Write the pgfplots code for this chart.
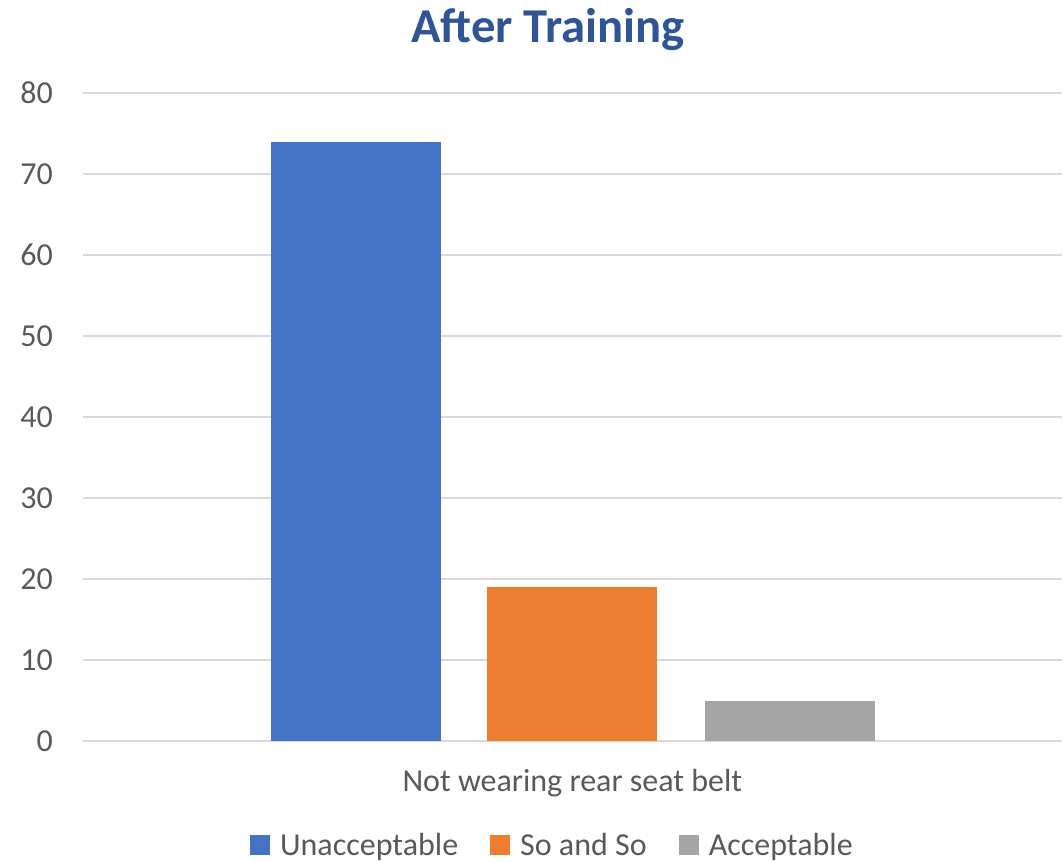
\documentclass[border=0pt]{standalone}
\usepackage{pgfplots}
\pgfplotsset{compat=1.18}
\usepackage{fontspec}
\setmainfont{Carlito}
\definecolor{cBlue}{HTML}{4472C4}
\definecolor{cOrange}{HTML}{ED7D31}
\definecolor{cGray}{HTML}{A5A5A5}
\definecolor{titleBlue}{HTML}{2F5597}
\definecolor{txt}{HTML}{595959}
\definecolor{gridc}{HTML}{D9D9D9}
\begin{document}
\begin{tikzpicture}
\path[use as bounding box] (-62.25pt,-90pt) rectangle (735.75pt,555.75pt);
\begin{axis}[
    at={(0pt,0pt)}, anchor=south west,
    scale only axis,
    width=734pt, height=486pt,
    xmin=-0.5, xmax=0.5,
    ymin=0, ymax=80,
    ytick={0,10,...,80},
    xtick={0},
    xticklabels={Not wearing rear seat belt},
    ymajorgrids,
    grid style={gridc, line width=1pt},
    axis line style={draw=none},
    major tick length=0pt,
    /pgf/number format/assume math mode=true,
    tick label style={font=\fontsize{24}{28}\selectfont, text=txt},
    yticklabel style={anchor=east, inner sep=0pt, xshift=-22.5pt},
    xticklabel style={anchor=base, inner sep=0pt, yshift=-38pt},
    ybar, bar shift=0pt, bar width=0.1736,
    legend columns=3,
    legend style={at={(0.480,-0.1605)}, anchor=center, draw=none,
        font=\fontsize{24}{28}\selectfont, text=txt,
        /tikz/every odd column/.append style={column sep=5.5pt},
        /tikz/every even column/.append style={column sep=22pt}},
    legend image code/.code={\fill[#1] (0pt,-7.5pt) rectangle (15pt,7.5pt);},
]
\addplot[fill=cBlue, draw=none] coordinates {(-0.2211,74)};
\addlegendentry{Unacceptable}
\addplot[fill=cOrange, draw=none] coordinates {(0,19)};
\addlegendentry{So and So}
\addplot[fill=cGray, draw=none] coordinates {(0.2227,5)};
\addlegendentry{Acceptable}
\end{axis}
\node[anchor=base, text=titleBlue, font=\bfseries\fontsize{36.5}{44}\selectfont] at (348.75pt,523.5pt) {After Training};
\end{tikzpicture}
\end{document}
